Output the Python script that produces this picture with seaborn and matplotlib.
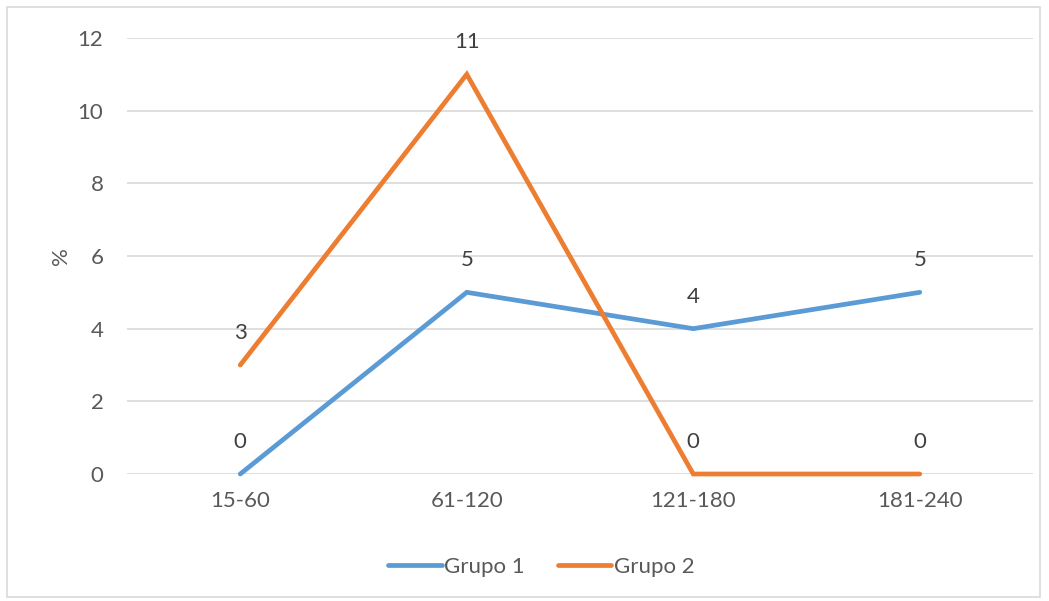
import matplotlib
matplotlib.use("Agg")
import matplotlib.pyplot as plt
import seaborn as sns
import pandas as pd
from matplotlib.patches import Rectangle

categories = ["15-60", "61-120", "121-180", "181-240"]
grupo1 = [0, 5, 4, 5]
grupo2 = [3, 11, 0, 0]
series_names = ["Grupo 1", "Grupo 2"]
y_ticks = [0, 2, 4, 6, 8, 10, 12]

colors = {"Grupo 1": "#5B9BD5", "Grupo 2": "#ED7D31"}
text_color = "#595959"
fs = 16

sns.set_theme(style="white")
plt.rcParams["font.family"] = ["Lato", "DejaVu Sans"]

df = pd.DataFrame({
    "cat": categories * 2,
    "x": list(range(len(categories))) * 2,
    "value": grupo1 + grupo2,
    "serie": [series_names[0]] * len(categories) + [series_names[1]] * len(categories),
})

fig = plt.figure(figsize=(10.49, 6.01), dpi=100)
ax = fig.add_axes([127 / 1049, 1 - 474 / 601, (1033 - 127) / 1049, (474 - 38) / 601])

sns.lineplot(data=df, x="x", y="value", hue="serie", palette=colors,
             linewidth=3.4, ax=ax, legend=False, sort=False)
for line in ax.get_lines():
    line.set_solid_capstyle("round")
    line.set_solid_joinstyle("miter")
    line.set_clip_on(False)

ax.set_xlim(-0.5, len(categories) - 0.5)
ax.set_ylim(0, 12)
ax.set_yticks(y_ticks)
ax.set_xticks(range(len(categories)))
ax.set_xticklabels(categories)
ax.tick_params(axis="both", length=0, labelsize=fs, colors=text_color)
ax.tick_params(axis="x", pad=12)
ax.tick_params(axis="y", pad=17)
ax.yaxis.grid(True, color="#D9D9D9", linewidth=1.2)
ax.set_axisbelow(True)
for s in ax.spines.values():
    s.set_visible(False)
ax.set_xlabel("")
ax.set_ylabel("%", fontsize=fs, color=text_color)
ax.yaxis.set_label_coords(-0.062, 0.5)

# value labels above each point
for _, row in df.iterrows():
    ax.annotate(f"{row['value']:g}", (row["x"], row["value"]),
                xytext=(0, 23), textcoords="offset points",
                ha="center", va="center", fontsize=fs, color="#404040")

# legend
handles = [plt.Line2D([], [], color=colors[n], linewidth=3.4, solid_capstyle="round")
           for n in series_names]
fig.legend(handles, series_names, loc="center", bbox_to_anchor=(0.516, 1 - 567 / 601),
           ncol=2, frameon=False, fontsize=fs, handlelength=2.4, handletextpad=0.1,
           columnspacing=1.5, labelcolor=text_color)

# chart border
fig.patches.append(Rectangle((7 / 1049, 4 / 601), 1033 / 1049, 590 / 601,
                             transform=fig.transFigure, fill=False,
                             edgecolor="#D9D9D9", linewidth=1.2))

fig.savefig("out.png", dpi=100)
